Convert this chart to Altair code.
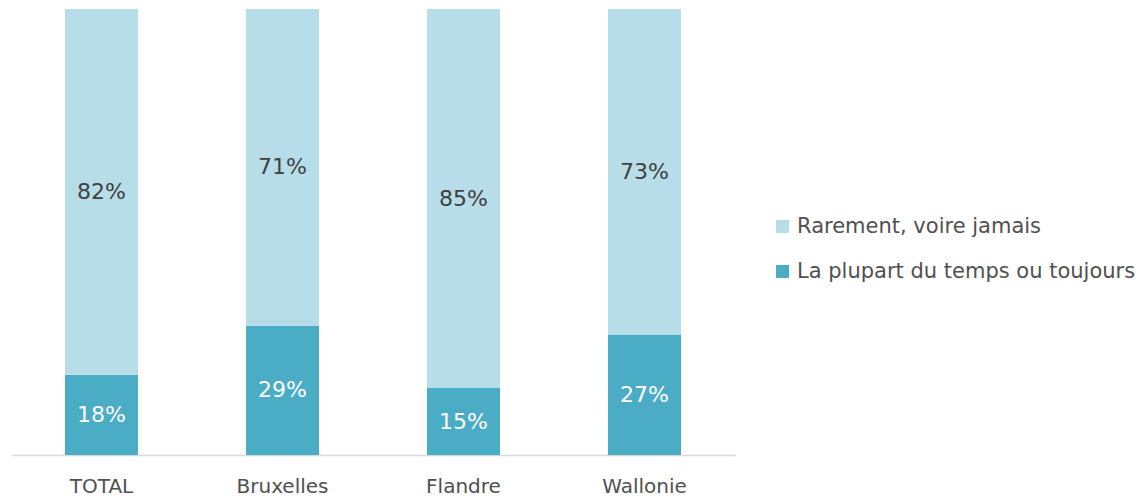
import altair as alt
import pandas as pd

regions = ["TOTAL", "Bruxelles", "Flandre", "Wallonie"]
rarement = [82, 71, 85, 73]
plupart = [18, 29, 15, 27]
series = ["Rarement, voire jamais", "La plupart du temps ou toujours"]
colors = ["#B7DEE8", "#4BACC6"]
text_colors = ["#404040", "#FFFFFF"]

rows = []
for i, r in enumerate(regions):
    rows.append({"region": r, "serie": series[1], "val": plupart[i], "ord": 0})
    rows.append({"region": r, "serie": series[0], "val": rarement[i], "ord": 1})
df = pd.DataFrame(rows)

FONT = "DejaVu Sans"

base = alt.Chart(df).transform_stack(
    stack="val", groupby=["region"], as_=["y0", "y1"], sort=[alt.SortField("ord")]
).transform_calculate(
    mid="(datum.y0 + datum.y1) / 2", label="datum.val + '%'"
)

xenc = alt.X("region:N", sort=regions, title=None,
             scale=alt.Scale(paddingInner=0, paddingOuter=0),
             axis=alt.Axis(labelAngle=0, labelFont=FONT, labelFontSize=20, labelColor="#505050",
                           labelPadding=21, ticks=False, domainColor="#D9D9D9", domainWidth=1.5))

bars = base.mark_bar(size=73).encode(
    x=xenc,
    y=alt.Y("y0:Q", scale=alt.Scale(domain=[0, 100]), axis=None),
    y2="y1:Q",
    color=alt.Color("serie:N", scale=alt.Scale(domain=series, range=colors),
                    legend=alt.Legend(title=None, orient="none", legendX=761, legendY=207,
                                      symbolType="square", symbolSize=169, symbolStrokeWidth=0,
                                      labelFont=FONT, labelFontSize=21, labelColor="#505050",
                                      labelLimit=0, rowPadding=23, labelOffset=4)),
)

texts = base.mark_text(font=FONT, fontSize=22).encode(
    x=alt.X("region:N", sort=regions),
    y=alt.Y("mid:Q", scale=alt.Scale(domain=[0, 100])),
    text="label:N",
    color=alt.Color("serie:N", scale=alt.Scale(domain=series, range=text_colors), legend=None),
)

chart = alt.layer(bars, texts).resolve_scale(color="independent").properties(
    width=724, height=446, background="white",
    padding={"left": 11, "top": 9, "right": 0, "bottom": 0},
).configure_view(stroke=None)

chart.save("out.html", embed_options={"renderer": "svg", "actions": False})
